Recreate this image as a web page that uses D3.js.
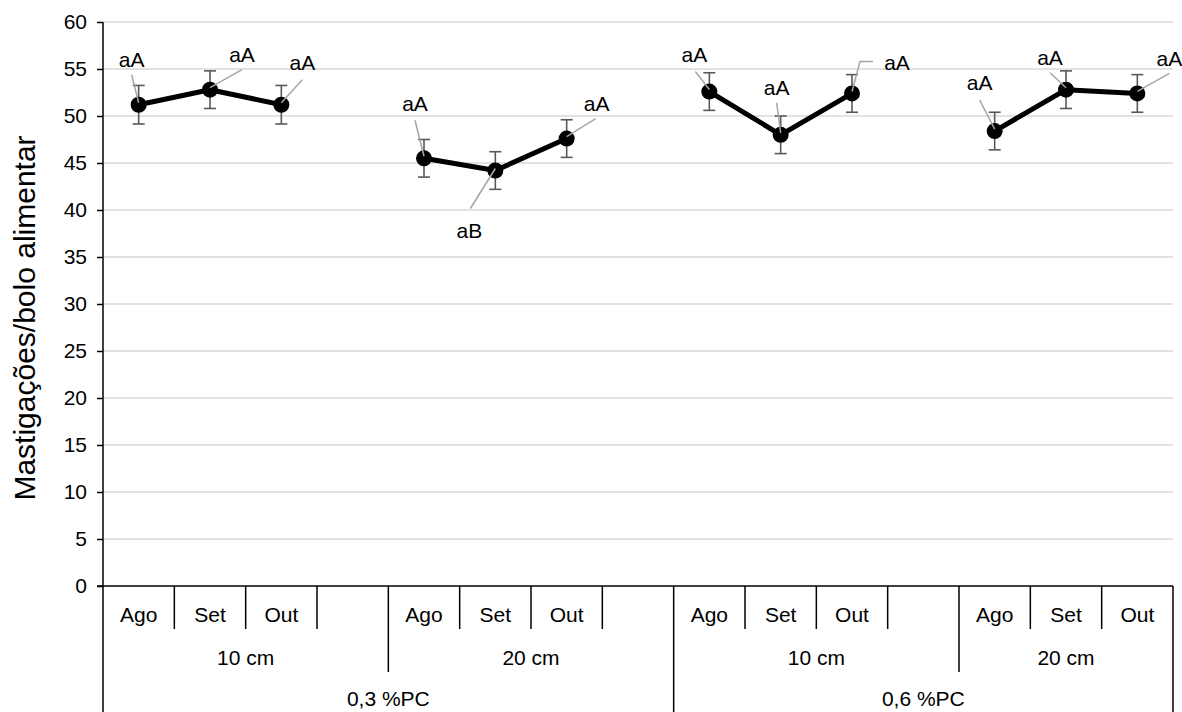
<!DOCTYPE html>
<html><head><meta charset="utf-8">
<script src="https://cdn.jsdelivr.net/npm/d3@7"></script>
<style>body{margin:0;background:#fff}svg{display:block}text{font-family:"Liberation Sans",Arial,sans-serif;fill:#000}</style>
</head><body>
<svg id="c" width="1182" height="712"></svg>
<script>
// ---- data ----
const months = ["Ago", "Set", "Out"];
const heights = ["10 cm", "20 cm", "10 cm", "20 cm"];
const doses = ["0,3 %PC", "0,6 %PC"];
const values = [
  [51.2, 52.8, 51.2],
  [45.5, 44.2, 47.6],
  [52.6, 48.0, 52.4],
  [48.4, 52.8, 52.4]
];
const errors = [
  [2.05, 2.0, 2.05],
  [2.0, 2.0, 2.0],
  [2.0, 2.0, 2.0],
  [2.0, 2.0, 2.0]
];
const letters = [
  ["aA", "aA", "aA"],
  ["aA", "aB", "aA"],
  ["aA", "aA", "aA"],
  ["aA", "aA", "aA"]
];
const yTicks = [0, 5, 10, 15, 20, 25, 30, 35, 40, 45, 50, 55, 60];
const yTitle = "Mastigações/bolo alimentar";

// ---- layout (label offsets relative to each point, px) ----
const labelLayout = [
  [{t:[-7,-45], s:[-7,-30]}, {t:[32,-35], s:[32,-20]}, {t:[21,-42], s:[21,-25]}],
  [{t:[-9,-55], s:[-9,-38]}, {t:[-26,60], s:[-25,38]}, {t:[30,-35], s:[29,-20]}],
  [{t:[-15,-37], s:[-14,-20]}, {t:[-4,-47], s:[-4,-32]}, {t:[45,-31], s:[21,-32], e:[8,-32]}],
  [{t:[-15,-48], s:[-15,-31]}, {t:[-16,-32], s:[-16,-17]}, {t:[32,-35], s:[32,-20]}]
];

(function () {
const svg = d3.select("#c");
const pLeft = 103, pRight = 1173, pTop = 22, pBottom = 586;
const nSlots = heights.length * 4 - 1;
const x = d3.scaleBand().domain(d3.range(nSlots)).range([pLeft, pRight]).padding(0);
const y = d3.scaleLinear().domain([0, 60]).range([pBottom, pTop]);
const bw = x.bandwidth();
const FONT = 21;

// gridlines
svg.append("g").selectAll("line").data(yTicks.filter(d => d > 0)).join("line")
  .attr("x1", pLeft).attr("x2", pRight).attr("y1", d => y(d)).attr("y2", d => y(d))
  .attr("stroke", "#d9d9d9").attr("stroke-width", 1.3);

// y axis
const yAxis = svg.append("g").attr("transform", `translate(${pLeft},0)`)
  .call(d3.axisLeft(y).tickValues(yTicks).tickSize(6).tickPadding(10));
yAxis.select(".domain").remove();
yAxis.selectAll(".tick line").attr("stroke", "#000").attr("stroke-width", 1.5);
yAxis.selectAll(".tick text").attr("font-size", FONT).attr("font-family", "Liberation Sans").attr("fill", "#000");
svg.append("line").attr("x1", pLeft).attr("x2", pLeft).attr("y1", pTop).attr("y2", 712)
  .attr("stroke", "#000").attr("stroke-width", 1.5);

// y title
svg.append("text").attr("transform", `translate(35,318) rotate(-90)`)
  .attr("text-anchor", "middle").attr("font-size", 30).text(yTitle);

// x axis line
svg.append("line").attr("x1", pLeft - 6).attr("x2", pRight).attr("y1", pBottom).attr("y2", pBottom)
  .attr("stroke", "#000").attr("stroke-width", 1.5);

// category boxes
const lvl1 = 629, lvl2 = 672, lvl3 = 712;
const bounds = [];
for (let i = 1; i <= nSlots; i++) {
  let yEnd = lvl1;
  if (i === nSlots) yEnd = lvl3;
  else if (i % 4 === 0) yEnd = (i % 8 === 0) ? lvl3 : lvl2;
  bounds.push({xp: x(i - 1) + bw, yEnd});
}
svg.append("g").selectAll("line").data(bounds).join("line")
  .attr("x1", d => d.xp).attr("x2", d => d.xp).attr("y1", pBottom).attr("y2", d => d.yEnd)
  .attr("stroke", "#000").attr("stroke-width", 1.5);

// level 1 labels
const slotLabels = [];
heights.forEach((h, g) => months.forEach((m, k) => slotLabels.push({i: g * 4 + k, m})));
svg.append("g").selectAll("text").data(slotLabels).join("text")
  .attr("x", d => x(d.i) + bw / 2).attr("y", 615).attr("dy", "0.35em")
  .attr("text-anchor", "middle").attr("font-size", FONT).text(d => d.m);
// level 2
svg.append("g").selectAll("text").data(heights).join("text")
  .attr("x", (d, g) => { const a = x(g * 4); const b = g === heights.length - 1 ? pRight : x(g * 4 + 3) + bw; return (a + b) / 2; })
  .attr("y", 658).attr("dy", "0.35em").attr("text-anchor", "middle").attr("font-size", FONT).text(d => d);
// level 3
svg.append("g").selectAll("text").data(doses).join("text")
  .attr("x", (d, k) => { const a = x(k * 8); const b = k === doses.length - 1 ? pRight : x(k * 8 + 7) + bw; return (a + b) / 2; })
  .attr("y", 699).attr("dy", "0.35em").attr("text-anchor", "middle").attr("font-size", FONT).text(d => d);

// points
const pts = [];
values.forEach((row, g) => row.forEach((v, k) => pts.push({
  g, k, v, e: errors[g][k], lab: letters[g][k], lay: labelLayout[g][k],
  px: x(g * 4 + k) + bw / 2, py: y(v)
})));

// error bars
const eb = svg.append("g").attr("stroke", "#595959").attr("stroke-width", 1.6);
pts.forEach(p => {
  const y1 = y(p.v + p.e), y2 = y(p.v - p.e);
  eb.append("line").attr("x1", p.px).attr("x2", p.px).attr("y1", y1).attr("y2", y2);
  eb.append("line").attr("x1", p.px - 6).attr("x2", p.px + 6).attr("y1", y1).attr("y2", y1);
  eb.append("line").attr("x1", p.px - 6).attr("x2", p.px + 6).attr("y1", y2).attr("y2", y2);
});

// lines per group
const line = d3.line().x(d => d.px).y(d => d.py);
heights.forEach((h, g) => {
  svg.append("path").datum(pts.filter(p => p.g === g)).attr("d", line)
    .attr("fill", "none").attr("stroke", "#000").attr("stroke-width", 5).attr("stroke-linejoin", "round");
});
svg.append("g").selectAll("circle").data(pts).join("circle")
  .attr("cx", d => d.px).attr("cy", d => d.py).attr("r", 8).attr("fill", "#000");

// leader lines + labels
pts.forEach(p => {
  const L = p.lay;
  const path = [[p.px + L.s[0], p.py + L.s[1]]];
  if (L.e) path.push([p.px + L.e[0], p.py + L.e[1]]);
  path.push([p.px, p.py - 2]);
  svg.append("path").attr("d", d3.line()(path)).attr("fill", "none")
    .attr("stroke", "#a6a6a6").attr("stroke-width", 1.5);
  svg.append("text").attr("x", p.px + L.t[0]).attr("y", p.py + L.t[1]).attr("dy", "0.35em")
    .attr("text-anchor", "middle").attr("font-size", FONT).text(p.lab);
});
})();
</script>
</body></html>
